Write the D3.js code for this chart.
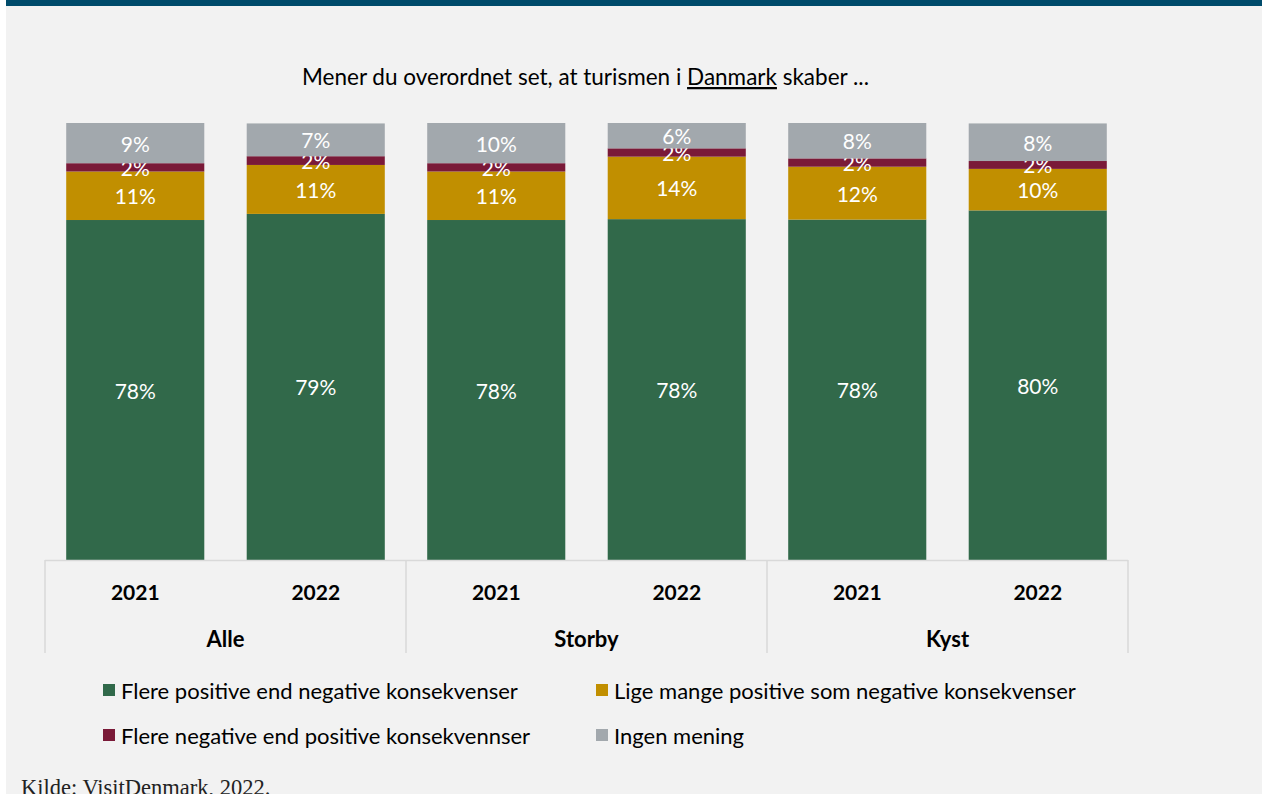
<!DOCTYPE html>
<html>
<head>
<meta charset="utf-8">
<script src="https://cdn.jsdelivr.net/npm/d3@7"></script>
<style>
  html, body { margin: 0; padding: 0; background: #ffffff; }
  svg { display: block; }
</style>
</head>
<body>
<svg id="chart" width="1262" height="794"></svg>
<script>
const years = ["2021", "2022", "2021", "2022", "2021", "2022"];
const groups = ["Alle", "Storby", "Kyst"];
const positive = [77.8, 79.2, 77.8, 78.0, 77.9, 80.0];
const equal = [11.1, 11.2, 11.1, 14.3, 12.1, 9.5];
const negative = [1.9, 2.0, 1.9, 1.9, 1.9, 1.8];
const noOpinion = [9.2, 7.5, 9.2, 5.8, 8.1, 8.6];
const positiveLabels = ["78%", "79%", "78%", "78%", "78%", "80%"];
const equalLabels = ["11%", "11%", "11%", "14%", "12%", "10%"];
const negativeLabels = ["2%", "2%", "2%", "2%", "2%", "2%"];
const noOpinionLabels = ["9%", "7%", "10%", "6%", "8%", "8%"];
const seriesNames = [
    "Flere positive end negative konsekvenser",
    "Lige mange positive som negative konsekvenser",
    "Flere negative end positive konsekvennser",
    "Ingen mening"
];

const colours = ["#31694a", "#c18f00", "#7a1a38", "#a2a8ad"];
const font = "Lato, 'Open Sans', sans-serif";

const svg = d3.select("#chart");

// background panel and top band
svg.append("rect").attr("x", 6).attr("y", 0).attr("width", 1256).attr("height", 794).attr("fill", "#f2f2f2");
svg.append("rect").attr("x", 6).attr("y", 0).attr("width", 1256).attr("height", 6).attr("fill", "#004b6b");

const rows = years.map((y, i) => ({
    i: i,
    year: y,
    group: groups[Math.floor(i / 2)],
    s0: positive[i], s1: equal[i], s2: negative[i], s3: noOpinion[i]
}));
const labelSets = [positiveLabels, equalLabels, negativeLabels, noOpinionLabels];

const x = d3.scaleBand()
    .domain(rows.map(d => d.i))
    .range([45, 1128])
    .paddingInner(0.235)
    .paddingOuter(0.1175);

const y = d3.scaleLinear()
    .domain([0, 100])
    .range([560, 123]);

const stacked = d3.stack().keys(["s0", "s1", "s2", "s3"])(rows);

const layers = svg.append("g").selectAll(".layer")
    .data(stacked)
    .join("g")
    .attr("class", "layer")
    .attr("fill", (_, k) => colours[k]);

layers.selectAll("rect")
    .data(d => d)
    .join("rect")
    .attr("x", d => x(d.data.i))
    .attr("y", d => y(d[1]))
    .attr("width", x.bandwidth())
    .attr("height", d => y(d[0]) - y(d[1]));

layers.selectAll("text")
    .data((d, k) => d.map(p => ({ p: p, label: labelSets[k][p.data.i] })))
    .join("text")
    .attr("x", d => x(d.p.data.i) + x.bandwidth() / 2)
    .attr("y", d => (y(d.p[0]) + y(d.p[1])) / 2)
    .attr("text-anchor", "middle")
    .attr("dominant-baseline", "central")
    .attr("fill", "#ffffff")
    .attr("font-family", font)
    .attr("font-size", 21)
    .text(d => d.label);

// category axis
const axisColour = "#d9d9d9";
const axisG = svg.append("g");
axisG.append("line")
    .attr("x1", 45).attr("x2", 1128)
    .attr("y1", 560.5).attr("y2", 560.5)
    .attr("stroke", axisColour).attr("stroke-width", 1.5);

const groupEdges = [0, 2, 4, 6].map(k => 45 + k * x.step());
axisG.selectAll(".sep")
    .data(groupEdges)
    .join("line")
    .attr("x1", d => d).attr("x2", d => d)
    .attr("y1", 560).attr("y2", 653)
    .attr("stroke", axisColour).attr("stroke-width", 1.5);

const yearAxis = d3.axisBottom(x).tickSize(0).tickPadding(0).tickFormat(i => years[i]);
const ya = axisG.append("g").attr("transform", "translate(0,591)").call(yearAxis);
ya.select(".domain").remove();
ya.selectAll("text")
    .attr("font-family", font)
    .attr("font-size", 21)
    .attr("font-weight", "bold")
    .attr("fill", "#000000")
    .attr("dy", null)
    .attr("dominant-baseline", "central");

axisG.selectAll(".group-label")
    .data(groups)
    .join("text")
    .attr("class", "group-label")
    .attr("x", (_, g) => (groupEdges[g] + groupEdges[g + 1]) / 2)
    .attr("y", 638)
    .attr("text-anchor", "middle")
    .attr("dominant-baseline", "central")
    .attr("font-family", font)
    .attr("font-size", 22)
    .attr("font-weight", "bold")
    .text(d => d);

// title
const title = svg.append("text")
    .attr("x", 585.5)
    .attr("y", 85)
    .attr("text-anchor", "middle")
    .attr("font-family", font)
    .attr("font-size", 22.5)
    .attr("fill", "#000000");
title.append("tspan").text("Mener du overordnet set, at turismen i ");
title.append("tspan").attr("text-decoration", "underline").text("Danmark");
title.append("tspan").text(" skaber ...");

// legend
const legendPos = [[103, 690], [596, 690], [103, 735], [596, 735]];
const legend = svg.append("g").selectAll(".legend")
    .data(seriesNames)
    .join("g")
    .attr("class", "legend")
    .attr("transform", (_, k) => `translate(${legendPos[k][0]},${legendPos[k][1]})`);
legend.append("rect")
    .attr("x", 0).attr("y", -6)
    .attr("width", 12).attr("height", 12)
    .attr("fill", (_, k) => colours[k]);
legend.append("text")
    .attr("x", 18)
    .attr("y", 0)
    .attr("dominant-baseline", "central")
    .attr("font-family", font)
    .attr("font-size", 22)
    .text(d => d);

// source
svg.append("text")
    .attr("x", 21)
    .attr("y", 795)
    .attr("font-family", "'Liberation Serif', 'DejaVu Serif', serif")
    .attr("font-size", 22.5)
    .attr("fill", "#222222")
    .text("Kilde: VisitDenmark, 2022.");
</script>
</body>
</html>
